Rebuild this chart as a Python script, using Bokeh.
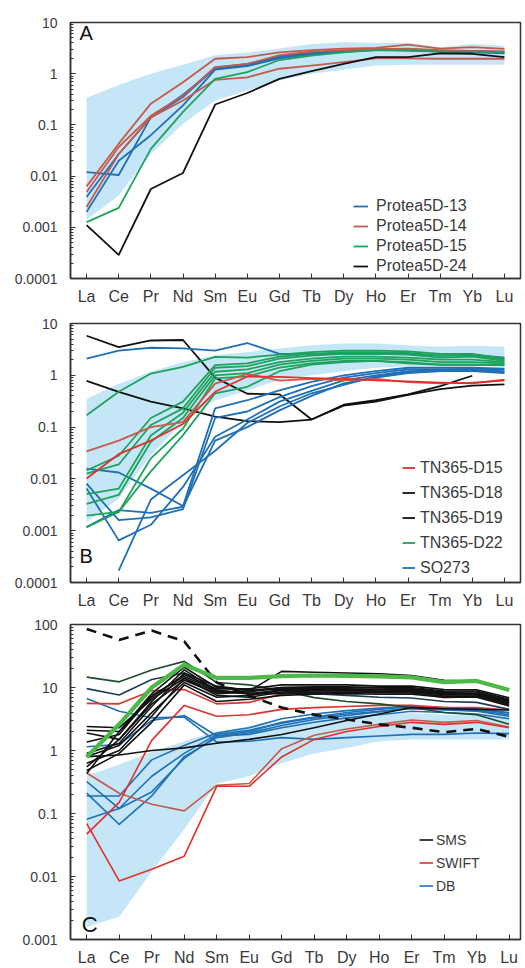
import numpy as np
from bokeh.plotting import figure
from bokeh.layouts import column
from bokeh.models import FixedTicker, CustomJSTickFormatter, Legend, LegendItem, Label
from bokeh.embed import file_html
from bokeh.resources import INLINE

nan = np.nan
ree = ["La", "Ce", "Pr", "Nd", "Sm", "Eu", "Gd", "Tb", "Dy", "Ho", "Er", "Tm", "Yb", "Lu"]
xi = list(range(len(ree)))

# ---------------- Panel A : Protea5D ----------------
bandA_hi = [0.34, 0.6, 1.0, 1.5, 2.3, 2.6, 3.1, 3.8, 4.1, 4.0, 4.0, 3.3, 3.8, 3.5]
bandA_lo = [0.0014, 0.0042, 0.027, 0.105, 0.3, 0.47, 0.74, 1.0, 1.2, 1.45, 1.5, 1.5, 1.5, 1.5]

protea13 = [
    [0.012, 0.0105, 0.14, 0.39, 1.25, 1.45, 2.1, 2.5, 2.8, 3.0, 3.0, 2.8, 2.8, 2.7],
    [0.0039, 0.027, 0.14, 0.35, 1.3, 1.55, 2.2, 2.6, 2.8, 2.9, 2.9, 2.7, 2.7, 2.6],
    [0.002, 0.02, 0.063, 0.24, 1.2, 1.4, 2.0, 2.4, 2.7, 2.9, 2.9, 2.7, 2.6, 2.5],
]
protea14 = [
    [0.0063, 0.043, 0.26, 0.68, 1.96, 2.1, 2.6, 2.9, 3.1, 3.2, 3.7, 3.1, 3.3, 3.05],
    [0.0049, 0.037, 0.15, 0.37, 1.35, 1.55, 2.3, 2.7, 2.9, 3.0, 3.1, 2.9, 2.8, 2.7],
    [0.0025, 0.027, 0.14, 0.3, 0.76, 0.85, 1.25, 1.44, 1.68, 2.0, 2.0, 1.96, 1.96, 1.96],
]
protea15 = [
    [0.00126, 0.0024, 0.034, 0.18, 0.79, 1.07, 1.85, 2.26, 2.6, 2.9, 2.8, 2.7, 2.7, 2.6],
]
protea24 = [
    [0.0011, 0.00029, 0.0056, 0.0115, 0.25, 0.42, 0.79, 1.12, 1.55, 2.1, 2.1, 2.5, 2.45, 2.1],
]

# ---------------- Panel B : TN365 / SO273 ----------------
bandB_hi = [0.35, 0.69, 1.17, 1.8, 2.45, 2.8, 3.3, 3.8, 4.1, 4.1, 3.8, 3.55, 3.7, 3.55]
bandB_lo = [0.00144, 0.0042, 0.029, 0.126, 0.33, 0.51, 0.81, 1.0, 1.2, 1.4, 1.5, 1.5, 1.5, 1.5]

tn_d15 = [
    [0.034, 0.055, 0.1, 0.125, 0.69, 1.07, 0.79, 0.85, 0.8, 0.85, 0.74, 0.7, 0.72, 0.79],
    [0.0102, 0.03, 0.055, 0.115, 0.48, 0.95, 0.93, 0.88, 0.85, 0.8, 0.76, 0.72, 0.7, 0.82],
]
tn_d18 = [
    [5.8, 3.5, 4.7, 4.8, 0.9, 0.44, 0.43, 0.14, 0.27, 0.33, 0.43, 0.62, 0.98, nan],
]
tn_d19 = [
    [0.78, 0.48, 0.31, 0.23, 0.16, 0.13, 0.125, 0.14, 0.26, 0.31, 0.42, 0.54, 0.63, 0.67],
]
tn_d22 = [
    [0.17, 0.48, 1.08, 1.46, 2.27, 2.2, 2.5, 2.8, 3.0, 3.0, 2.9, 2.6, 2.6, 2.1],
    [0.0145, 0.028, 0.15, 0.31, 1.57, 1.7, 2.3, 2.6, 2.8, 2.8, 2.7, 2.4, 2.4, 2.0],
    [0.0126, 0.019, 0.11, 0.23, 1.4, 1.5, 2.1, 2.4, 2.6, 2.6, 2.5, 2.2, 2.3, 1.9],
    [0.0051, 0.0065, 0.069, 0.19, 1.17, 1.3, 1.8, 2.1, 2.3, 2.3, 2.2, 2.0, 2.0, 1.8],
    [0.0033, 0.0049, 0.052, 0.15, 1.0, 1.1, 1.6, 1.9, 2.1, 2.1, 2.0, 1.8, 1.8, 1.7],
    [0.00195, 0.0023, 0.025, 0.094, 0.87, 0.95, 1.4, 1.7, 1.9, 1.9, 1.8, 1.6, 1.6, 1.6],
    [0.00117, 0.0023, 0.014, 0.07, 0.45, 0.6, 1.2, 1.6, 1.8, 1.9, 1.7, 1.6, 1.6, 1.55],
]
so273 = [
    [2.1, 3.0, 3.4, 3.3, 3.0, 4.2, 2.6, 2.6, 2.6, 2.6, 2.6, 2.4, 2.5, 2.2],
    [0.0158, 0.0133, 0.0065, 0.003, 0.23, 0.33, 0.51, 0.75, 1.0, 1.2, 1.4, 1.4, 1.4, 1.35],
    [0.0081, 0.0016, 0.0018, 0.0026, 0.15, 0.2, 0.38, 0.62, 0.9, 1.1, 1.3, 1.3, 1.35, 1.3],
    [0.0065, 0.00065, 0.0013, 0.007, 0.065, 0.14, 0.31, 0.5, 0.8, 1.0, 1.2, 1.25, 1.3, 1.2],
    [0.00117, 0.0025, 0.0022, 0.0029, 0.055, 0.1, 0.21, 0.4, 0.7, 0.9, 1.1, 1.2, 1.2, 1.1],
    [nan, 0.00017, 0.004, 0.0118, 0.035, 0.12, 0.25, 0.45, 0.65, 0.95, 1.15, 1.2, 1.25, 1.15],
]

# ---------------- Panel C : SMS / SWIFT / DB ----------------
bandC_hi = [0.4, 0.6, 0.95, 1.4, 2.0, 2.4, 2.9, 3.3, 3.6, 3.8, 3.9, 3.7, 3.8, 3.7]
bandC_lo = [0.0016, 0.0023, 0.012, 0.056, 0.3, 0.39, 0.63, 0.9, 1.1, 1.4, 1.5, 1.5, 1.5, 1.5]

sms = [
    [2.4, 2.3, 6.5, 14, 8.5, 8.8, 18, 17.5, 17, 16.5, 15.5, 13, 12.5, 9.3],
    [2.1, 2.0, 7.0, 16, 9.5, 9.5, 11, 11, 11, 10.5, 10.5, 9.3, 9.2, 6.9],
    [1.9, 1.5, 5.5, 13, 8.0, 8.5, 10, 10.3, 10.3, 10, 10, 8.8, 8.8, 6.5],
    [0.9, 1.3, 5.0, 17, 10.5, 9.0, 10, 10, 10, 9.8, 9.6, 8.5, 8.5, 6.2],
    [0.8, 1.2, 4.0, 12, 7.0, 7.5, 9, 9.3, 9.3, 9.2, 9.0, 8.0, 8.0, 6.0],
    [0.63, 1.0, 3.5, 14, 7.5, 7.0, 8.5, 8.8, 8.8, 8.7, 8.6, 7.6, 7.6, 5.7],
    [0.55, 1.5, 6.0, 19, 9.0, 8.0, 8.0, 8.3, 8.4, 8.3, 8.2, 7.3, 7.3, 5.4],
    [0.48, 0.9, 2.8, 11, 6.0, 6.5, 7.5, 7.8, 8.0, 7.8, 7.8, 7.0, 7.0, 5.1],
    [0.43, 2.0, 8.0, 21, 10, 9.0, 9.5, 9.5, 9.5, 9.4, 9.3, 8.3, 8.0, 6.3],
    [1.36, 1.8, 7.5, 15, 9.0, 8.0, 9.2, 9.0, 9.0, 8.8, 8.8, 7.8, 7.8, 5.8],
    [0.8, 0.85, 1.0, 1.1, 1.3, 1.5, 1.8, 2.3, 3.0, 3.8, 4.8, 4.6, 4.5, 4.4],
]
sms_dashed = [85, 57, 80, 54, 12, 7.4, 4.8, 3.7, 3.1, 2.6, 2.3, 1.95, 2.2, 1.65]
sms_green = [0.79, 2.6, 10, 23, 14.2, 14.2, 15.2, 15.5, 15.3, 15, 14.5, 12.2, 12.7, 9.1]
sms_darkgreen = [14.6, 12.3, 19, 26, 12, 11, 9, 6.9, 6, 5.5, 4.8, 4.0, 3.7, 2.6]
sms_navy = [9.6, 7.6, 13.4, 17, 8.5, 8.0, 8.2, 8.0, 7.5, 7.0, 6.8, 6.0, 5.8, 4.5]

swift_red = [
    [5.6, 5.5, 8.9, 9.3, 5.5, 5.8, 7.9, 8.3, 8.3, 8.3, 8.3, 6.9, 7.2, 5.3],
    [0.047, 0.15, 1.45, 5.2, 3.5, 3.7, 4.5, 4.8, 5.0, 5.2, 5.2, 4.8, 4.8, 4.4],
    [0.069, 0.0085, 0.013, 0.021, 0.27, 0.27, 0.79, 1.5, 2.0, 2.4, 2.8, 2.6, 2.8, 2.3],
]
swift_brown = [
    [0.44, 0.21, 0.14, 0.11, 0.28, 0.3, 1.07, 1.75, 2.2, 2.6, 3.05, 2.8, 3.0, 2.35],
]
db = [
    [6.7, 4.2, 3.3, 3.4, 1.36, 1.4, 1.6, 1.5, 1.6, 1.7, 1.8, 1.8, 1.9, 1.85],
    [1.15, 1.25, 3.0, 3.6, 1.7, 1.8, 2.3, 2.8, 3.3, 3.7, 4.2, 4.0, 3.8, 3.2],
    [0.32, 0.12, 0.39, 0.9, 1.8, 2.1, 2.7, 3.3, 3.8, 4.2, 4.6, 4.4, 4.2, 3.5],
    [0.19, 0.19, 0.71, 1.2, 1.9, 2.3, 3.2, 3.8, 4.3, 4.7, 5.0, 4.8, 4.6, 4.0],
    [0.21, 0.067, 0.19, 0.8, 1.6, 1.9, 2.5, 3.1, 3.6, 4.1, 4.8, 4.5, 4.3, 3.7],
    [0.081, 0.12, 0.22, 0.75, 1.7, 2.0, 2.8, 3.4, 4.0, 4.5, 5.0, 4.7, 4.5, 3.9],
]

# ---------------- styling ----------------
FONT = "Liberation Sans"
BAND = "#c4e6f7"
BLUE = "#1f70b6"
BROWN = "#c65a4b"
RED = "#e2302b"
GREEN = "#1ea35a"
LIME = "#4cb847"
DKGREEN = "#1f4d2b"
NAVY = "#1d3d5c"
BLACK = "#111111"
AXIS = "#333333"

fmt = CustomJSTickFormatter(code="""
    return tick >= 1 ? tick.toFixed(0) : parseFloat(tick.toPrecision(1)).toString();
""")


def panel(height, top, bottom, left, right, lo, hi, xend):
    p = figure(width=525, height=height, y_axis_type="log",
               x_range=(-0.5, xend), y_range=(10.0 ** lo, 10.0 ** hi),
               output_backend="svg", toolbar_location=None,
               min_border_top=top, min_border_bottom=bottom,
               min_border_left=left, min_border_right=right)
    p.grid.visible = False
    p.outline_line_color = AXIS
    p.outline_line_width = 1.5
    p.background_fill_color = "white"
    p.border_fill_color = "white"

    majors = [10.0 ** e for e in range(lo, hi + 1)]
    minors = [k * 10.0 ** e for e in range(lo, hi) for k in range(2, 10)]
    p.yaxis.ticker = FixedTicker(ticks=majors, minor_ticks=minors)
    p.yaxis.formatter = fmt
    p.yaxis.major_tick_in = 5
    p.yaxis.major_tick_out = 0
    p.yaxis.minor_tick_in = 3
    p.yaxis.minor_tick_out = 0
    p.yaxis.major_label_standoff = 13
    p.yaxis.major_label_text_font_size = "14px"

    p.xaxis.ticker = FixedTicker(ticks=xi, minor_ticks=[])
    p.xaxis.major_label_overrides = {i: n for i, n in enumerate(ree)}
    p.xaxis.major_tick_in = 5
    p.xaxis.major_tick_out = 0
    p.xaxis.major_label_standoff = 9
    p.xaxis.major_label_text_font_size = "16px"

    for ax in (p.xaxis, p.yaxis):
        ax.axis_line_color = AXIS
        ax.axis_line_width = 1.5
        ax.major_tick_line_color = AXIS
        ax.minor_tick_line_color = AXIS
        ax.major_label_text_font = FONT
        ax.major_label_text_color = "#3a3a3a"
    return p


def draw(p, series, color, width=1.8, dash="solid"):
    rs = []
    for s in series:
        rs.append(p.line(xi, s, line_color=color, line_width=width,
                         line_dash=dash, line_join="round"))
    return rs


def legend(p, items, loc, font, row, glyph_w, standoff):
    lg = Legend(items=[LegendItem(label=t, renderers=[r]) for t, r in items],
                location=loc, orientation="vertical",
                glyph_width=glyph_w, glyph_height=row, label_height=row,
                label_standoff=standoff, spacing=0, padding=0, margin=0,
                border_line_alpha=0, background_fill_alpha=0,
                label_text_font=FONT, label_text_font_size=font,
                label_text_color="#3a3a3a")
    p.add_layout(lg)


def letter(p, text, x, y, size="20px"):
    p.add_layout(Label(x=x, y=y, text=text, text_font=FONT,
                       text_font_size=size, text_color=BLACK,
                       text_align="left", text_baseline="middle"))


# Panel A
pa = panel(310, 22, 32, 67, 5, -4, 1, 13.5)
pa.varea(x=xi, y1=bandA_lo, y2=bandA_hi, fill_color=BAND, fill_alpha=1)
rb = draw(pa, protea13, BLUE)
rr = draw(pa, protea14, BROWN)
rg = draw(pa, protea15, GREEN)
rk = draw(pa, protea24, BLACK)
legend(pa, [("Protea5D-13", rb[0]), ("Protea5D-14", rr[0]),
            ("Protea5D-15", rg[0]), ("Protea5D-24", rk[0])],
       (283, 2), "16px", 20, 15, 8)
letter(pa, "A", -0.22, 6.2)

# Panel B
pb = panel(305, 13, 33, 68, 5, -4, 1, 13.5)
pb.varea(x=xi, y1=bandB_lo, y2=bandB_hi, fill_color=BAND, fill_alpha=1)
r18 = draw(pb, tn_d18, BLACK)
r19 = draw(pb, tn_d19, BLACK)
rb2 = draw(pb, so273, BLUE)
rg2 = draw(pb, tn_d22, GREEN)
r15b = draw(pb, tn_d15[:1], BROWN)
r15 = draw(pb, tn_d15[1:], RED)
legend(pb, [("TN365-D15", r15[0]), ("TN365-D18", r18[0]),
            ("TN365-D19", r19[0]), ("TN365-D22", rg2[0]), ("SO273", rb2[0])],
       (332, 2), "16px", 25, 13, 5)
letter(pb, "B", -0.22, 0.00032)

# Panel C
pc = panel(353, 9, 25, 70, 0, -3, 2, 13.35)
pc.varea(x=xi, y1=bandC_lo, y2=bandC_hi, fill_color=BAND, fill_alpha=1)
rdb = draw(pc, db, BLUE, 1.6)
rsb = draw(pc, swift_brown, BROWN, 1.6)
rsr = draw(pc, swift_red, RED, 1.6)
draw(pc, [sms_darkgreen], DKGREEN, 1.6)
draw(pc, [sms_navy], NAVY, 1.6)
rsms = draw(pc, sms, BLACK, 1.6)
draw(pc, [sms_dashed], BLACK, 2.6, "10 7")
draw(pc, [sms_green], LIME, 4.2)
legend(pc, [("SMS", rsms[0]), ("SWIFT", rsr[0]), ("DB", rdb[0])],
       (349, 42), "14px", 23, 14, 3)
letter(pc, "C", -0.15, 0.00175, "22px")

layout = column(pa, pb, pc, spacing=0)
open("out.html", "w").write(file_html(layout, INLINE))
